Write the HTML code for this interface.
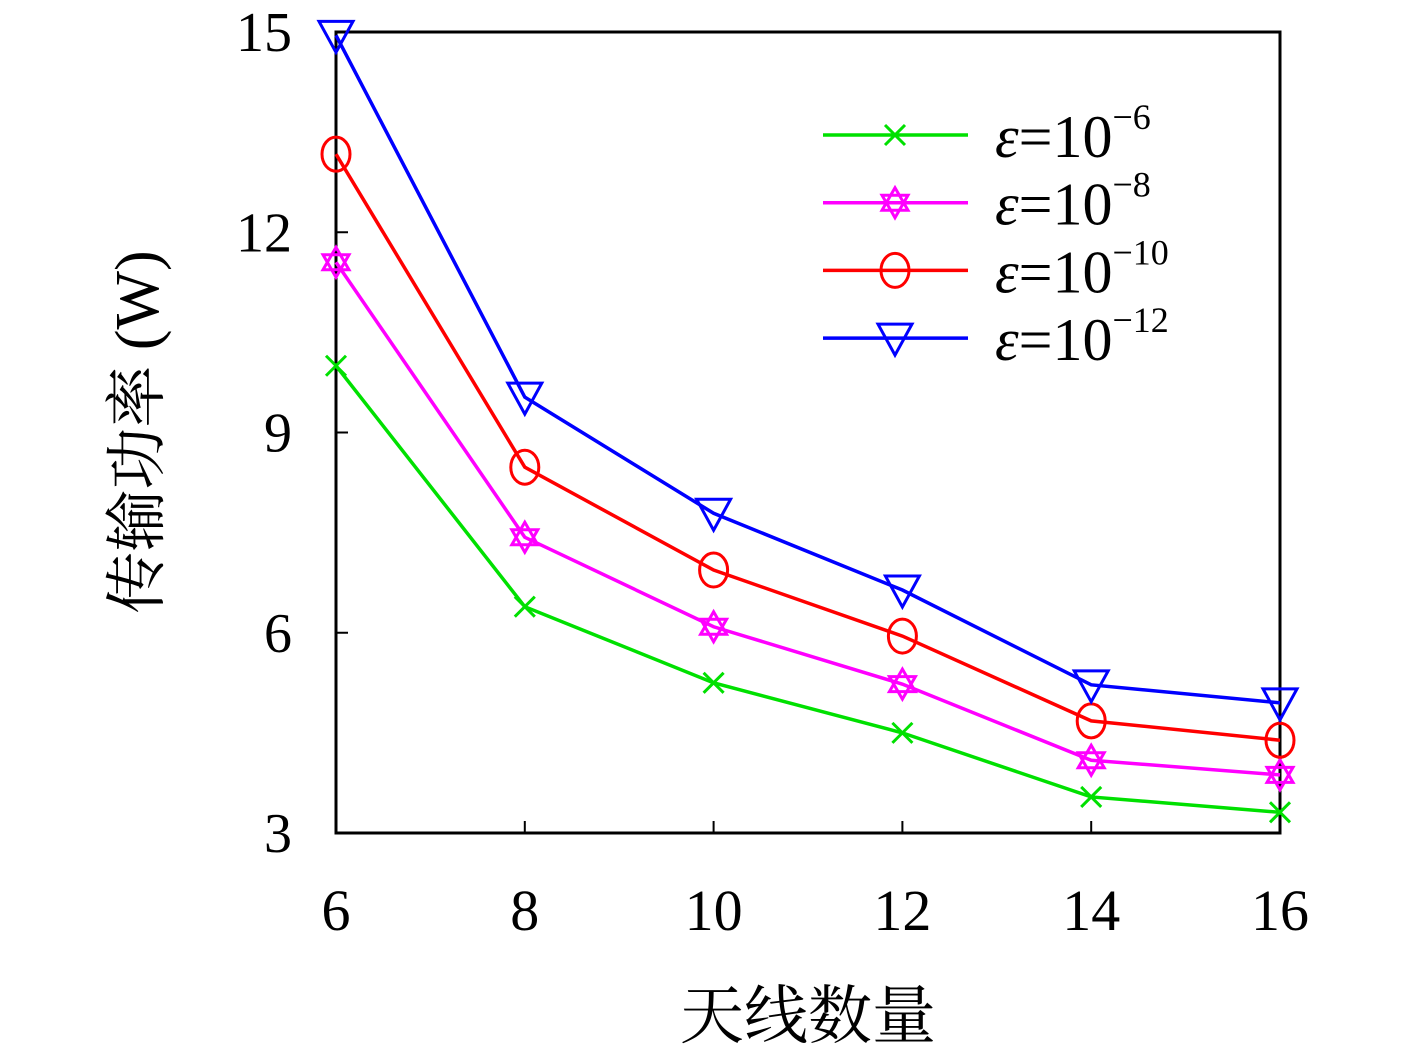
<!DOCTYPE html>
<html><head><meta charset="utf-8"><style>
body{margin:0;background:#fff}
svg{display:block}
text{font-family:"Liberation Serif","Noto Serif CJK SC",serif;fill:#000}
</style></head><body>
<svg id="chart" width="1417" height="1050" viewBox="0 0 1417 1050" xmlns="http://www.w3.org/2000/svg">
<g id="plot"></g>
<text x="808" y="1038" font-size="64" text-anchor="middle">天线数量</text>
<text transform="translate(158,432) rotate(-90)" font-size="62" text-anchor="middle">传输功率 (W)</text>
</svg>
<script>
const categories=[6,8,10,12,14,16];
const xTicks=[6,8,10,12,14,16];
const yTicks=[3,6,9,12,15];
const seriesNames=["-6","-8","-10","-12"];
const s1=[10.0,6.39,5.25,4.5,3.54,3.31];
const s2=[11.55,7.43,6.09,5.23,4.09,3.87];
const s3=[13.17,8.48,6.94,5.95,4.68,4.39];
const s4=[14.95,9.53,7.79,6.64,5.22,4.95];
const L=336,R=1280,T=32,B=833;
const xs=v=>L+(v-6)/(16-6)*(R-L);
const ys=v=>B-(v-3)/(15-3)*(B-T);
const NS="http://www.w3.org/2000/svg";
const g=document.getElementById('plot');
function mk(t,a,p){const e=document.createElementNS(NS,t);for(const k in a)e.setAttribute(k,a[k]);(p||g).appendChild(e);return e;}
const frame=mk('rect',{x:L,y:T,width:R-L,height:B-T,fill:'none',stroke:'#000','stroke-width':3});


xTicks.forEach(v=>{const x=xs(v);
 const t=mk('line',{x1:x,x2:x,y1:B,y2:B-12,stroke:'#000','stroke-width':2});
 
 const l=mk('text',{x:x,y:930,'font-size':58,'text-anchor':'middle'});l.textContent=v;
 });
yTicks.forEach(v=>{const y=ys(v);
 const t=mk('line',{x1:L,x2:L+12,y1:y,y2:y,stroke:'#000','stroke-width':2});
 
 const l=mk('text',{x:292,y:y+19,'font-size':56,'text-anchor':'end'});l.textContent=v;
 });
const colors=['#00e000','#ff00ff','#ff0000','#0000ff'];
const kinds=['x','star','circle','tri'];
function marker(k,x,y,c,p){
 let e;
 if(k==='x'){e=mk('path',{d:`M${x-10} ${y-10}L${x+10} ${y+10}M${x-10} ${y+10}L${x+10} ${y-10}`,stroke:c,'stroke-width':3,fill:'none'},p);}
 else if(k==='star'){const r=15;let a=[],b=[];for(let i=0;i<3;i++){const t1=-Math.PI/2+i*2*Math.PI/3,t2=Math.PI/2+i*2*Math.PI/3;a.push((x+r*Math.cos(t1))+','+(y+r*Math.sin(t1)));b.push((x+r*Math.cos(t2))+','+(y+r*Math.sin(t2)));}
  e=mk('path',{d:'M'+a.join('L')+'Z M'+b.join('L')+'Z',stroke:c,'stroke-width':3,fill:'none'},p);}
 else if(k==='circle'){e=mk('ellipse',{cx:x,cy:y,rx:14,ry:17,stroke:c,'stroke-width':3,fill:'none'},p);}
 else {e=mk('path',{d:`M${x-17} ${y-14}L${x+17} ${y-14}L${x} ${y+17}Z`,stroke:c,'stroke-width':3,fill:'none'},p);}
 
}
[s1,s2,s3,s4].forEach((s,i)=>{
 const pl=mk('polyline',{points:s.map((v,j)=>xs(categories[j])+','+ys(v)).join(' '),fill:'none',stroke:colors[i],'stroke-width':3.5});
 
 s.forEach((v,j)=>marker(kinds[i],xs(categories[j]),ys(v),colors[i]));
});
const lg=mk('g',{});

seriesNames.forEach((n,i)=>{const y=135+i*67.7;
 const ln=mk('line',{x1:823,x2:968,y1:y,y2:y,stroke:colors[i],'stroke-width':3.5},lg);
 
 marker(kinds[i],895,y,colors[i],lg);
 const t=mk('text',{x:995,y:y+22,'font-size':60},lg);
 
 t.innerHTML='<tspan font-style="italic">ε</tspan>=10<tspan font-size="36" dy="-28">'+n.replace('-','−')+'</tspan>';
});
</script>
</body></html>
